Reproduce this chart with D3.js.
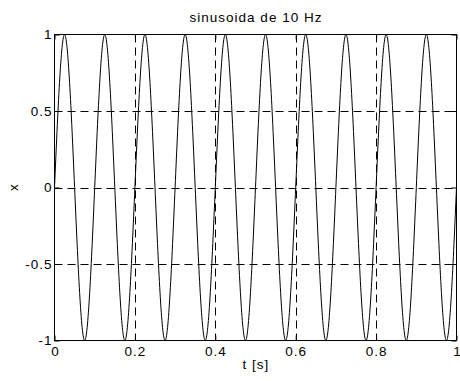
<!DOCTYPE html>
<html>
<head>
<meta charset="utf-8">
<script src="https://cdn.jsdelivr.net/npm/d3@7"></script>
<style>
  html, body { margin: 0; padding: 0; background: #fff; }
  svg text { font-family: "Liberation Sans", Arial, Helvetica, sans-serif; fill: #000; }
</style>
</head>
<body>
<svg id="chart" width="460" height="381"></svg>
<script>
// 10 Hz sine: quarter-period knots (zero crossings and extremes)
const timeS = [
  0.000, 0.025, 0.050, 0.075, 0.100, 0.125, 0.150, 0.175, 0.200, 0.225,
  0.250, 0.275, 0.300, 0.325, 0.350, 0.375, 0.400, 0.425, 0.450, 0.475,
  0.500, 0.525, 0.550, 0.575, 0.600, 0.625, 0.650, 0.675, 0.700, 0.725,
  0.750, 0.775, 0.800, 0.825, 0.850, 0.875, 0.900, 0.925, 0.950, 0.975, 1.000
];
const xValues = [
  0, 1, 0, -1, 0, 1, 0, -1, 0, 1,
  0, -1, 0, 1, 0, -1, 0, 1, 0, -1,
  0, 1, 0, -1, 0, 1, 0, -1, 0, 1,
  0, -1, 0, 1, 0, -1, 0, 1, 0, -1, 0
];
const xTicks = [0, 0.2, 0.4, 0.6, 0.8, 1];
const xTickLabels = ["0", "0.2", "0.4", "0.6", "0.8", "1"];
const yTicks = [-1, -0.5, 0, 0.5, 1];
const yTickLabels = ["-1", "-0.5", "0", "0.5", "1"];
const titleText = "sinusoida de 10 Hz";
const xLabelText = "t [s]";
const yLabelText = "x";

const svg = d3.select("#chart");
const pL = 54.5, pR = 456.5, pT = 34.5, pB = 340.5;

const x = d3.scaleLinear().domain([0, 1]).range([pL, pR]);
const y = d3.scaleLinear().domain([-1, 1]).range([pB, pT]);

// dashed grid
const grid = svg.append("g").attr("stroke", "#000").attr("stroke-width", 1)
  .attr("stroke-dasharray", "8,5").attr("fill", "none");
xTicks.filter(t => t > 0 && t < 1).forEach(t => {
  grid.append("line").attr("x1", Math.round(x(t)) + 0.5).attr("x2", Math.round(x(t)) + 0.5)
    .attr("y1", pT).attr("y2", pB);
});
yTicks.filter(t => t > -1 && t < 1).forEach(t => {
  grid.append("line").attr("x1", pL).attr("x2", pR)
    .attr("y1", Math.round(y(t)) + 0.5).attr("y2", Math.round(y(t)) + 0.5);
});

// signal
const line = d3.line()
  .x((d, i) => x(timeS[i]))
  .y(d => y(d))
  .curve(d3.curveNatural);
svg.append("path").datum(xValues)
  .attr("d", line)
  .attr("fill", "none").attr("stroke", "#000").attr("stroke-width", 1);

// axes with inward ticks on all four sides
const tickLen = 5;
const axB = d3.axisBottom(x).tickValues(xTicks).tickFormat((d, i) => xTickLabels[i])
  .tickSizeInner(-tickLen).tickSizeOuter(0).tickPadding(6);
const axT = d3.axisTop(x).tickValues(xTicks).tickFormat("")
  .tickSizeInner(-tickLen).tickSizeOuter(0);
const axL = d3.axisLeft(y).tickValues(yTicks).tickFormat((d, i) => yTickLabels[i])
  .tickSizeInner(-tickLen).tickSizeOuter(0).tickPadding(3);
const axR = d3.axisRight(y).tickValues(yTicks).tickFormat("")
  .tickSizeInner(-tickLen).tickSizeOuter(0);

function style(g) {
  g.select(".domain").remove();
  g.selectAll("line").attr("stroke", "#000");
  g.selectAll("text").attr("font-size", 13.5)
    .attr("letter-spacing", function() { return this.textContent.length > 1 ? 1 : 0; })
    .style("font-family", "'Liberation Sans', Arial, sans-serif");
}
svg.append("g").attr("transform", `translate(0,${pB})`).call(axB).call(style);
svg.append("g").attr("transform", `translate(0,${pT})`).call(axT).call(style);
svg.append("g").attr("transform", `translate(${pL},0)`).call(axL).call(style)
  .selectAll("text").attr("dx", function() { return this.textContent.length > 1 ? 1 : 0; });
svg.append("g").attr("transform", `translate(${pR},0)`).call(axR).call(style);

// box
svg.append("rect").attr("x", pL).attr("y", pT)
  .attr("width", pR - pL).attr("height", pB - pT)
  .attr("fill", "none").attr("stroke", "#000").attr("stroke-width", 1);

// labels
svg.append("text").attr("x", (pL + pR) / 2 + 0.5).attr("y", 22)
  .attr("text-anchor", "middle").attr("font-size", 13.5).attr("letter-spacing", 1)
  .text(titleText);
svg.append("text").attr("x", (pL + pR) / 2 + 0.5).attr("y", 369)
  .attr("text-anchor", "middle").attr("font-size", 13.5).attr("letter-spacing", 1)
  .text(xLabelText);
svg.append("text").attr("transform", `translate(18,${(pT + pB) / 2}) rotate(-90)`)
  .attr("text-anchor", "middle").attr("font-size", 13.5).text(yLabelText);
</script>
</body>
</html>
